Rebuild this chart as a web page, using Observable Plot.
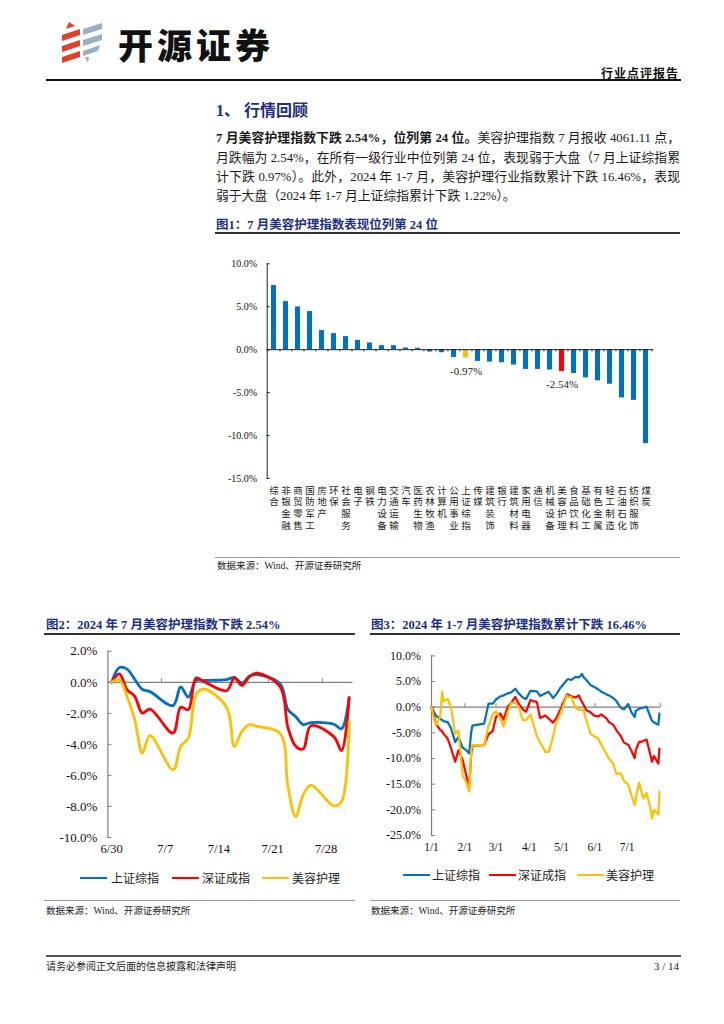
<!DOCTYPE html>
<html><head><meta charset="utf-8">
<script src="https://cdn.jsdelivr.net/npm/d3@7"></script>
<script src="https://cdn.jsdelivr.net/npm/@observablehq/plot@0.6"></script>
<style>
body{margin:0;background:#fff;}
#page{position:relative;width:724px;height:1024px;overflow:hidden;background:#fff;color:#111;font-family:"Liberation Serif","Noto Sans CJK SC",serif;}
.abs{position:absolute;white-space:nowrap;}
.navy{color:#1c2f82;font-weight:bold;}
.rule{position:absolute;}
.para{position:absolute;left:216px;width:464px;font-size:12.8px;line-height:19.2px;white-space:nowrap;text-align:justify;text-align-last:justify;color:#1a1a1a;}
.src{position:absolute;font-size:9.5px;line-height:12px;color:#222;}
.leg{position:absolute;font-size:12px;line-height:14px;font-family:"Noto Sans CJK SC";color:#222;}
.sw{position:absolute;height:2.6px;width:27px;}
</style></head>
<body><div id="page">
<svg class="abs" style="left:60px;top:21px" width="46" height="44" viewBox="0 0 46 44">
  <path d="M9 1 L15 5 L6 8 Z" fill="#e0402a"/>
  <path d="M2 14 L20 8 L20 14 L2 20 Z" fill="#e0402a"/>
  <path d="M2 25 L20 19 L20 25 L2 31 Z" fill="#e0402a"/>
  <path d="M2 36 L20 30 L20 36 L2 42 Z" fill="#e0402a"/>
  <path d="M23 8 L42 2 L42 8 L23 14 Z" fill="#98b0c2"/>
  <path d="M23 19 L42 13 L42 19 L23 25 Z" fill="#98b0c2"/>
  <path d="M23 30 L40 24 L38 30 L23 35 Z" fill="#98b0c2"/>
  <path d="M25 36 L29 36 L28 42 Z" fill="#98b0c2"/>
</svg>
<div class="abs" style="left:118px;top:25px;font:900 35px/37px 'Noto Sans CJK SC';letter-spacing:4px;color:#111">开源证券</div>
<div class="abs" style="right:45px;top:66px;font:bold 12px/14px 'Noto Sans CJK SC';letter-spacing:1px;color:#111">行业点评报告</div>
<div class="rule" style="left:46px;top:79px;width:635px;height:2px;background:#111"></div>

<div class="abs navy" style="left:216px;top:101px;font-size:16px;line-height:20px">1、 行情回顾</div>
<div class="para" style="top:129px"><b>7 月美容护理指数下跌 2.54%，位列第 24 位。</b>美容护理指数 7 月报收 4061.11 点，</div>
<div class="para" style="top:148.5px">月跌幅为 2.54%，在所有一级行业中位列第 24 位，表现弱于大盘（7 月上证综指累</div>
<div class="para" style="top:167.5px">计下跌 0.97%）。此外，2024 年 1-7 月，美容护理行业指数累计下跌 16.46%，表现</div>
<div class="para" style="top:186.5px;text-align-last:left">弱于大盘（2024 年 1-7 月上证综指累计下跌 1.22%）。</div>

<div class="abs navy" style="left:216px;top:217px;font-size:12.5px;line-height:16px">图1：7 月美容护理指数表现位列第 24 位</div>
<div class="rule" style="left:215px;top:232px;width:465px;height:1.5px;background:#333"></div>
<div id="chart1" class="abs" style="left:200px;top:250px"></div>
<div class="rule" style="left:215px;top:557px;width:465px;height:1px;background:#999"></div>
<div class="src" style="left:217px;top:560px">数据来源：Wind、开源证券研究所</div>

<div class="abs navy" style="left:46px;top:617px;font-size:12.5px;line-height:16px">图2：2024 年 7 月美容护理指数下跌 2.54%</div>
<div class="rule" style="left:44px;top:633px;width:311px;height:1.5px;background:#333"></div>
<div class="abs navy" style="left:371px;top:617px;font-size:12.5px;line-height:16px">图3：2024 年 1-7 月美容护理指数累计下跌 16.46%</div>
<div class="rule" style="left:370px;top:633px;width:310px;height:1.5px;background:#333"></div>

<div id="chart2" class="abs" style="left:30px;top:640px"></div>
<div id="chart3" class="abs" style="left:360px;top:640px"></div>
<div id="legend2"></div>
<div id="legend3"></div>

<div class="rule" style="left:44px;top:900px;width:311px;height:1px;background:#999"></div>
<div class="src" style="left:46px;top:905px">数据来源：Wind、开源证券研究所</div>
<div class="rule" style="left:370px;top:900px;width:310px;height:1px;background:#999"></div>
<div class="src" style="left:371px;top:905px">数据来源：Wind、开源证券研究所</div>

<div class="rule" style="left:46px;top:955px;width:635px;height:2px;background:#555"></div>
<div class="abs" style="left:46px;top:959px;font-size:10px;line-height:14px;font-family:'Noto Sans CJK SC';color:#222">请务必参阅正文后面的信息披露和法律声明</div>
<div class="abs" style="right:45px;top:959px;font-size:11px;line-height:14px;color:#222">3 / 14</div>
</div>
<script>
// ---------- Figure 1: July change by industry ----------
const industries = ["综合","非银金融","商贸零售","国防军工","房地产","环保","社会服务","电子","钢铁","电力设备","交通运输","汽车","医药生物","农林牧渔","计算机","公用事业","上证综指","传媒","建筑装饰","银行","建筑材料","家用电器","通信","机械设备","美容护理","食品饮料","基础化工","有色金属","轻工制造","石油石化","纺织服饰","煤炭"];
const julyChange = [7.47,5.60,4.98,4.44,2.22,1.87,1.52,1.09,0.78,0.47,0.47,0.20,0.16,-0.27,-0.35,-0.90,-0.97,-1.36,-1.44,-1.52,-1.79,-2.30,-2.30,-2.37,-2.54,-2.77,-3.28,-3.63,-4.02,-5.62,-5.90,-10.94];
const fig1YTicks = [-15,-10,-5,0,5,10];
const calloutNames = ["上证综指","美容护理"];

// ---------- Figure 2: July daily cumulative change ----------
const julyDates = ["2024-06-30","2024-07-01","2024-07-02","2024-07-03","2024-07-04","2024-07-05","2024-07-08","2024-07-09","2024-07-10","2024-07-11","2024-07-12","2024-07-15","2024-07-16","2024-07-17","2024-07-18","2024-07-19","2024-07-22","2024-07-23","2024-07-24","2024-07-25","2024-07-26","2024-07-29","2024-07-30","2024-07-31"];
const julySSE    = [0,0.95,0.85,0.2,-0.45,-0.6,-1.5,-0.3,-0.95,0.12,0.13,0.17,0.32,-0.05,0.4,0.5,-0.1,-1.75,-2.2,-2.72,-2.6,-2.7,-3.0,-0.97];
const julySZSE   = [0,0.54,-0.47,-0.9,-1.98,-1.72,-3.27,-1.6,-1.76,0.28,0.06,-0.54,0.28,-0.2,0.39,0.6,-0.3,-2.9,-4.1,-4.3,-2.8,-3.5,-4.4,-1.0];
const julyBeauty = [0,0.17,-0.9,-2.4,-4.56,-3.44,-5.63,-4.13,-3.6,-0.8,-0.43,-1.6,-4.13,-3.16,-2.73,-2.84,-3.3,-6.7,-8.65,-7.25,-6.62,-7.96,-7.68,-2.54];
const julyXTicks = ["2024-06-30","2024-07-07","2024-07-14","2024-07-21","2024-07-28"];
const julyYTicks = [-10,-8,-6,-4,-2,0,2];

// ---------- Figure 3: year-to-date cumulative change ----------
const ytdDates = ["2024-01-01","2024-01-03","2024-01-05","2024-01-09","2024-01-11","2024-01-12","2024-01-16","2024-01-19","2024-01-23","2024-01-26","2024-01-30",
 "2024-02-02","2024-02-05","2024-02-06","2024-02-07","2024-02-08","2024-02-19","2024-02-23","2024-02-27",
 "2024-03-01","2024-03-05","2024-03-08","2024-03-12","2024-03-15","2024-03-19","2024-03-22","2024-03-26","2024-03-29",
 "2024-04-02","2024-04-08","2024-04-11","2024-04-16","2024-04-19","2024-04-23","2024-04-26","2024-04-30",
 "2024-05-06","2024-05-07","2024-05-10","2024-05-14","2024-05-17","2024-05-20","2024-05-21","2024-05-24","2024-05-28","2024-05-31",
 "2024-06-04","2024-06-07","2024-06-12","2024-06-14","2024-06-18","2024-06-21","2024-06-25","2024-06-28",
 "2024-07-02","2024-07-05","2024-07-08","2024-07-09","2024-07-12","2024-07-16","2024-07-19","2024-07-23","2024-07-24","2024-07-26","2024-07-30","2024-07-31"];
const ytdSSE = [0,-0.8,-1.6,-2.3,-2.5,-2.7,-2.9,-4.0,-6.8,-5.8,-7.9,
 -8.3,-9.0,-6.8,-4.8,-3.6,-3.2,0.7,0.7,
 1.5,2.1,2.3,2.7,2.9,3.6,2.7,1.9,1.6,
 3.2,3.1,2.2,2.7,3.0,1.8,2.5,3.8,
 5.3,5.5,5.3,5.9,5.8,6.5,6.0,5.3,4.3,4.0,
 3.5,3.0,2.5,2.3,1.8,1.2,-0.1,-0.4,
 0.6,-1.0,-1.9,-0.7,-0.3,-0.1,0.1,-2.1,-2.6,-3.0,-3.4,-1.22];
const ytdSZSE = [0,-1.4,-3.2,-4.4,-4.7,-5.1,-6.1,-7.9,-10.6,-8.4,-10.3,
 -12.9,-15.7,-12.5,-9.0,-7.5,-7.4,-5.3,-4.6,
 -1.9,-1.2,-2.4,0.1,0.8,2.0,0.7,-0.4,-0.9,
 1.4,1.0,-2.1,-1.6,-2.2,-3.0,-2.2,-0.4,
 2.5,2.5,2.1,1.9,2.3,1.0,0.7,-0.6,-1.0,-1.6,
 -1.8,-1.4,-2.2,-2.9,-3.4,-4.5,-5.6,-6.9,
 -7.3,-8.5,-9.9,-8.4,-6.8,-6.6,-6.3,-9.6,-10.6,-9.5,-11.0,-8.05];
const ytdBeauty = [0,-1.9,-3.6,-1.9,3.0,1.2,1.6,0.1,-5.2,-4.5,-13.4,
 -14.4,-16.4,-12.5,-8.1,-7.4,-7.4,-3.6,-1.4,
 -0.8,-2.2,-3.8,-0.9,0.8,0.9,0.1,-2.5,-2.5,
 -1.4,-5.6,-6.9,-8.7,-8.7,-5.8,-3.0,-1.2,
 2.3,2.0,2.0,-0.1,-0.5,-0.5,-0.5,-2.5,-5.2,-5.6,
 -6.1,-7.3,-9.2,-10.0,-11.0,-13.0,-12.9,-14.3,
 -15.1,-17.2,-19.1,-17.8,-14.7,-17.8,-16.7,-20.0,-21.7,-20.0,-20.9,-16.46];
const ytdXTicks = ["2024-01-01","2024-02-01","2024-03-01","2024-04-01","2024-05-01","2024-06-01","2024-07-01"];
const ytdYTicks = [-25,-20,-15,-10,-5,0,5,10];
const seriesNames = ["上证综指","深证成指","美容护理"];

// ---------- helpers ----------
const parseDay = d3.utcParse("%Y-%m-%d");
const fmtMD = d3.utcFormat("%-m/%-d");
const pct1 = d => d.toFixed(1) + "%";
const seriesColor = {"上证综指":"#0070C0","深证成指":"#FF0000","美容护理":"#FFC000"};
const barColor = name => name === "美容护理" ? "#FF0000" : name === "上证综指" ? "#FFC000" : "#0070C0";
const baseStyle = {fontFamily:"'Liberation Serif','Noto Sans CJK SC',serif", color:"#111", background:"transparent", overflow:"visible"};

// ---------- chart 1 ----------
const rows1 = industries.map((name, i) => ({name, value: julyChange[i]}));
const W1 = 470, ML1 = 66.7, MR1 = 17;
const step1 = (W1 - ML1 - MR1) / industries.length;
const labelRows = [0, 1, 2, 3];
const chart1 = Plot.plot({
  width: W1, height: 285, marginLeft: ML1, marginRight: MR1, marginTop: 13.3, marginBottom: 57,
  style: baseStyle,
  x: {type: "band", domain: industries, paddingInner: 0.58, paddingOuter: 0.29},
  y: {domain: [-15, 10]},
  color: {type: "identity"},
  marks: [
    Plot.frame({anchor: "left", stroke: "#222"}),
    Plot.axisY({ticks: fig1YTicks, tickFormat: pct1, tickSize: -3, tickPadding: 13, fontSize: 10, stroke: "#222", label: null}),
    // one axis row per character: labels are written top-to-bottom as in the reference
    ...labelRows.map(r => Plot.axisX({anchor: "bottom", tickSize: 0, tickPadding: 8.5 + r * 11.7, fontSize: 9.5,
      fontFamily: "'Liberation Serif','Noto Sans CJK SC'", fill: "#222", label: null, tickFormat: d => d[r] ?? ""})),
    Plot.barY(rows1, {x: "name", y: "value", fill: d => barColor(d.name)}),
    Plot.ruleY([0], {stroke: "#222"}),
    Plot.ruleX(industries, {x: d => d, y1: 0, y2: -0.25, dx: -step1 / 2, stroke: "#222"}),
    Plot.ruleX(industries.slice(-1), {x: d => d, y1: 0, y2: -0.25, dx: step1 / 2, stroke: "#222"}),
    Plot.text(rows1.filter(d => calloutNames.includes(d.name)),
      {x: "name", y: "value", text: d => d.value.toFixed(2) + "%", dy: 13, fontSize: 11, fill: "#222"})
  ]
});
document.getElementById("chart1").append(chart1);

// ---------- chart 2 ----------
const jx = julyDates.map(parseDay);
const julySeries = [julySSE, julySZSE, julyBeauty];
const chart2 = Plot.plot({
  width: 330, height: 221, marginLeft: 77.4, marginRight: 7.5, marginTop: 10.8, marginBottom: 24,
  style: baseStyle,
  x: {type: "utc", domain: [d3.utcHour.offset(jx[0], -12), d3.utcHour.offset(jx[jx.length - 1], 12)]},
  y: {domain: [-10, 2]},
  marks: [
    Plot.frame({anchor: "left", stroke: "#7f7f7f", strokeWidth: 1.2}),
    Plot.ruleY([0], {stroke: "#7f7f7f", strokeWidth: 1.2}),
    Plot.ruleX(julyXTicks.slice(1).map(parseDay), {x: d => d3.utcHour.offset(d, -12), y1: 0, y2: 0.22, stroke: "#7f7f7f"}),
    Plot.axisY({ticks: julyYTicks, tickFormat: pct1, tickSize: -4, tickPadding: 14.5, fontSize: 13, stroke: "#7f7f7f", label: null}),
    Plot.axisX({ticks: julyXTicks.map(parseDay), tickFormat: fmtMD, tickSize: 0, tickPadding: 7, fontSize: 12.5, label: null}),
    ...julySeries.map((vals, k) => Plot.lineY(vals, {x: (d, i) => jx[i], y: d => d,
      stroke: seriesColor[seriesNames[k]], strokeWidth: 2.8, curve: "catmull-rom"}))
  ]
});
document.getElementById("chart2").append(chart2);

// ---------- chart 3 ----------
const yx = ytdDates.map(parseDay);
const ytdSeries = [ytdSSE, ytdSZSE, ytdBeauty];
const ytdTickDates = ytdXTicks.map(parseDay);
const chart3 = Plot.plot({
  width: 320, height: 217, marginLeft: 71, marginRight: 20, marginTop: 15.4, marginBottom: 22,
  style: baseStyle,
  x: {type: "utc", domain: [ytdTickDates[0], d3.utcMonth.offset(ytdTickDates[ytdTickDates.length - 1], 1)]},
  y: {domain: [-25, 10]},
  marks: [
    Plot.frame({anchor: "left", stroke: "#7f7f7f", strokeWidth: 1.2}),
    Plot.ruleY([0], {stroke: "#7f7f7f", strokeWidth: 1.2}),
    Plot.ruleX(ytdTickDates, {x: d => d3.utcMonth.offset(d, 1), y1: 0, y2: 0.7, stroke: "#7f7f7f"}),
    Plot.axisY({ticks: ytdYTicks, tickFormat: pct1, tickSize: -4, tickPadding: 14.5, fontSize: 12, stroke: "#7f7f7f", label: null}),
    Plot.axisX({ticks: ytdTickDates, tickFormat: fmtMD, tickSize: 0, tickPadding: 7, fontSize: 11.5, label: null}),
    ...ytdSeries.map((vals, k) => Plot.lineY(vals, {x: (d, i) => yx[i], y: d => d,
      stroke: seriesColor[seriesNames[k]], strokeWidth: 2.2}))
  ]
});
document.getElementById("chart3").append(chart3);

// ---------- legends ----------
function legend(id, items, cy) {
  const host = document.getElementById(id);
  items.forEach(([name, lx, tx]) => {
    const sw = document.createElement("div");
    sw.className = "sw";
    sw.style.cssText = `left:${lx}px;top:${cy - 1.3}px;background:${seriesColor[name]}`;
    host.parentNode.appendChild(sw);
    const t = document.createElement("div");
    t.className = "leg";
    t.style.cssText = `left:${tx}px;top:${cy - 7}px`;
    t.textContent = name;
    host.parentNode.appendChild(t);
  });
}
legend("legend2", [["上证综指", 80, 111], ["深证成指", 172, 202], ["美容护理", 262, 292]], 878);
legend("legend3", [["上证综指", 403, 432], ["深证成指", 489, 518], ["美容护理", 577, 606]], 875);
</script>
</body></html>
